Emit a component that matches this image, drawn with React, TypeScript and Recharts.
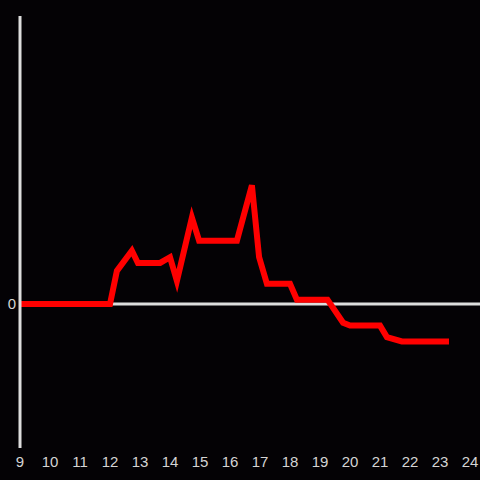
import { LineChart, Line, XAxis, YAxis, ReferenceLine } from 'recharts'

// hour of day (decimal) and value
const hours = [
  9, 12, 12.23, 12.73, 12.93, 13.67, 14, 14.23, 14.73, 14.97, 16.23, 16.73,
  16.97, 17.23, 18, 18.23, 19.25, 19.77, 20, 21, 21.23, 21.73, 23.3,
]
const values = [
  0, 0, 23, 37, 28.5, 28.5, 32.5, 16, 60, 44, 44, 82.5,
  32.5, 14, 14, 3, 3, -13, -15, -15, -23, -26, -26,
]
const hourTicks = [9, 10, 11, 12, 13, 14, 15, 16, 17, 18, 19, 20, 21, 22, 23, 24]

const data = hours.map((h, i) => ({ hour: h, value: values[i] }))

const tickStyle = { fill: '#d4d4d4', fontSize: 15, fontFamily: 'Liberation Sans, sans-serif' }

export default function App() {
  return (
    <div style={{ position: 'fixed', left: 0, top: 0, width: 480, height: 480, background: '#040205' }}>
      <LineChart
        width={480}
        height={480}
        data={data}
        margin={{ top: 16, right: 0, bottom: 0, left: 0 }}
      >
        <XAxis
          dataKey="hour"
          type="number"
          domain={[9, 24.333]}
          ticks={hourTicks}
          allowDataOverflow
          axisLine={false}
          tickLine={false}
          tickMargin={2}
          height={32}
          tick={tickStyle}
        />
        <YAxis
          type="number"
          domain={[-100, 200]}
          ticks={[0]}
          width={20}
          axisLine={{ stroke: '#dddddd', strokeWidth: 3 }}
          tickLine={false}
          tickSize={0}
          tickMargin={4}
          tick={tickStyle}
        />
        <ReferenceLine y={0} stroke="#dddddd" strokeWidth={3} />
        <Line
          type="linear"
          dataKey="value"
          stroke="#ff0000"
          strokeWidth={6}
          dot={false}
          isAnimationActive={false}
        />
      </LineChart>
    </div>
  )
}
